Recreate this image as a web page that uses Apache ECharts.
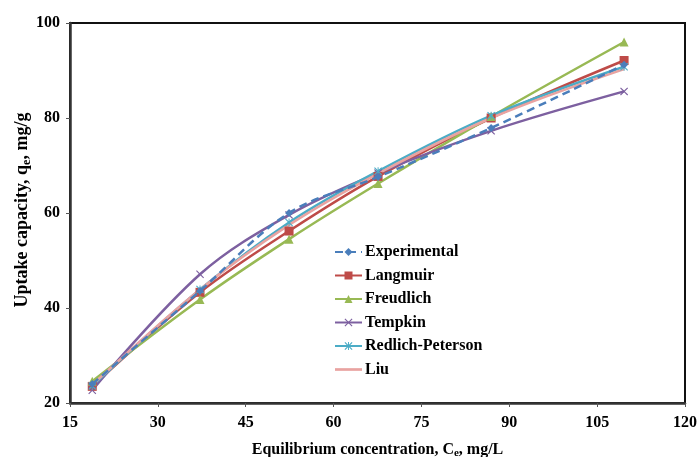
<!DOCTYPE html>
<html>
<head>
<meta charset="utf-8">
<script src="https://cdn.jsdelivr.net/npm/echarts@6/dist/echarts.min.js"></script>
<style>
  html, body { margin: 0; padding: 0; background: #fff; }
  #chart { width: 697px; height: 457px; }
</style>
</head>
<body>
<div id="chart"></div>
<script>
// data
var ce = [18.8, 37.2, 52.4, 67.6, 86.9, 109.6];
var experimental = [24.0, 43.6, 60.0, 67.6, 77.9, 91.2];
var langmuir = [23.5, 43.3, 56.2, 67.7, 80.0, 92.1];
var freudlich = [24.6, 41.8, 54.5, 66.2, 80.3, 96.0];
var tempkin = [22.7, 47.1, 59.6, 68.4, 77.3, 85.6];
var redlichPeterson = [23.6, 43.9, 58.0, 68.8, 80.5, 90.8];
var liu = [23.8, 43.9, 57.5, 68.3, 80.0, 90.3];

var xSym = 'path://M0,1L1,0L5,4L9,0L10,1L6,5L10,9L9,10L5,6L1,10L0,9L4,5Z';
var starSym = 'path://M0,1L1,0L5,4L9,0L10,1L6,5L10,9L9,10L5,6L1,10L0,9L4,5ZM4.4,0L5.6,0L5.6,10L4.4,10Z';

function pairs(ys) {
	var out = [];
	for (var i = 0; i < ce.length; i++) {
		out.push([ce[i], ys[i]]);
	}
	return out;
}

function makeSeries(name, ys, color, symbol, size, dashed) {
	return {
		name: name,
		type: 'line',
		smooth: 0.35,
		data: pairs(ys),
		symbol: symbol,
		symbolSize: size,
		lineStyle: { color: color, width: 2.5, type: dashed ? [8, 5] : 'solid' },
		itemStyle: { color: color },
		z: dashed ? 8 : 5
	};
}

var font = 'Liberation Serif';
var rich = {
	a: { fontFamily: font, fontWeight: 'bold', fontSize: 16, color: '#000' },
	s: { fontFamily: font, fontWeight: 'bold', fontSize: 11, color: '#000', verticalAlign: 'bottom', padding: [8, 0, 0, 0] }
};
var richY = {
	a: { fontFamily: font, fontWeight: 'bold', fontSize: 18, fill: '#000' },
	s: { fontFamily: font, fontWeight: 'bold', fontSize: 12, fill: '#000', verticalAlign: 'bottom', padding: [9, 0, 0, 0] }
};
var chart = echarts.init(document.getElementById('chart'));
chart.setOption({
	animation: false,
	textStyle: { fontFamily: font },
	grid: {
		left: 70, right: 12, top: 23, bottom: 54,
		outerBoundsMode: 'none',
		show: true, borderColor: '#111', borderWidth: 2
	},
	// y axis title
	graphic: [{
		type: 'text',
		x: 22, y: 210,
		rotation: Math.PI / 2,
		style: {
			text: '{a|Uptake capacity, q}{s|e}{a|, mg/g}',
			rich: richY,
			align: 'center',
			verticalAlign: 'middle'
		}
	}],
	legend: {
		orient: 'vertical',
		left: 329, top: 239,
		itemWidth: 27, itemHeight: 10, itemGap: 7.5,
		textStyle: { fontFamily: font, fontWeight: 'bold', fontSize: 16, color: '#000', padding: [0, 0, 0, -2] },
		data: ['Experimental', 'Langmuir', 'Freudlich', 'Tempkin', 'Redlich-Peterson',
			{ name: 'Liu', icon: 'path://M0,3.7L26,3.7L26,6.3L0,6.3Z' }]
	},
	xAxis: {
		type: 'value',
		min: 15, max: 120, interval: 15,
		name: '{a|Equilibrium concentration, C}{s|e}{a|, mg/L}',
		nameLocation: 'middle', nameGap: 37,
		nameTextStyle: { rich: rich },
		axisLine: { lineStyle: { color: '#333', width: 2.5 } },
		axisTick: { show: true, length: 4, lineStyle: { color: '#555' } },
		axisLabel: { fontFamily: font, fontWeight: 'bold', fontSize: 16, color: '#000', margin: 12 },
		splitLine: { show: false }
	},
	yAxis: {
		type: 'value',
		min: 20, max: 100, interval: 20,
		axisLine: { show: true, lineStyle: { color: '#333', width: 2.5 } },
		axisTick: { show: true, length: 4, lineStyle: { color: '#555' } },
		axisLabel: { fontFamily: font, fontWeight: 'bold', fontSize: 16, color: '#000', margin: 10 },
		splitLine: { show: false }
	},
	series: [
		makeSeries('Experimental', experimental, '#4A7EBB', 'diamond', 8, true),
		makeSeries('Langmuir', langmuir, '#BE4B48', 'rect', 9, false),
		makeSeries('Freudlich', freudlich, '#98B954', 'triangle', 9, false),
		makeSeries('Tempkin', tempkin, '#7D60A0', xSym, 8, false),
		makeSeries('Redlich-Peterson', redlichPeterson, '#4BACC6', starSym, 8, false),
		makeSeries('Liu', liu, '#E9A3A1', 'none', 1, false)
	]
});
</script>
</body>
</html>
